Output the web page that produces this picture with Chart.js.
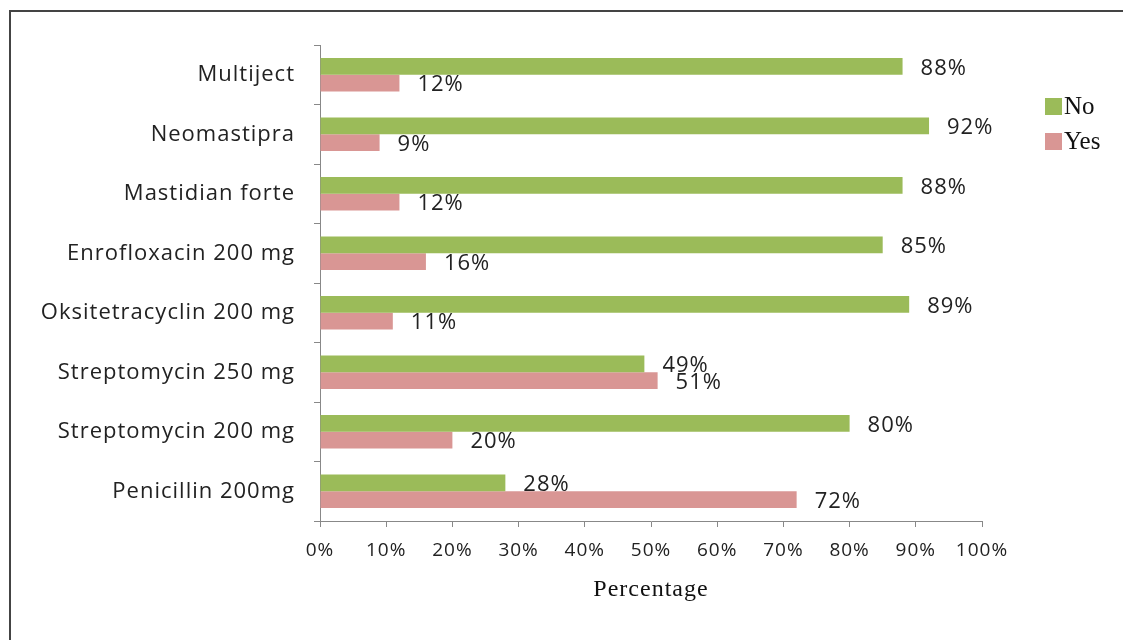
<!DOCTYPE html>
<html>
<head>
<meta charset="utf-8">
<script src="https://cdn.jsdelivr.net/npm/chart.js@4.4.1/dist/chart.umd.min.js"></script>
<style>
  html, body { margin: 0; padding: 0; background: #fff; }
  #wrap { position: relative; width: 1123px; height: 640px; }
  #frame { position: absolute; left: 9px; top: 10px; right: -5px; bottom: -5px;
           border-top: 2px solid #444; border-left: 2px solid #444; }
  canvas { position: absolute; left: 0; top: 0; }
</style>
</head>
<body>
<div id="wrap">
  <div id="frame"></div>
  <canvas id="c" width="1123" height="640"></canvas>
</div>
<script>
const categories = ["Multiject", "Neomastipra", "Mastidian forte", "Enrofloxacin 200 mg",
  "Oksitetracyclin 200 mg", "Streptomycin 250 mg", "Streptomycin 200 mg", "Penicillin 200mg"];
const noValues  = [88, 92, 88, 85, 89, 49, 80, 28];
const yesValues = [12, 9, 12, 16, 11, 51, 20, 72];
const xTicks = [0, 10, 20, 30, 40, 50, 60, 70, 80, 90, 100];
const seriesNames = ["No", "Yes"];
const colors = ["#9bbb59", "#d99694"];

const spacingPlugin = {
  id: 'spacing',
  beforeDraw(chart) { chart.ctx.letterSpacing = '1px'; }
};

const labelPlugin = {
  id: 'valueLabels',
  afterDatasetsDraw(chart) {
    const ctx = chart.ctx;
    ctx.save();
    ctx.letterSpacing = '1px';
    ctx.font = '22px "Open Sans"';
    ctx.fillStyle = '#222';
    ctx.textAlign = 'left';
    ctx.textBaseline = 'middle';
    chart.data.datasets.forEach((ds, di) => {
      const meta = chart.getDatasetMeta(di);
      meta.data.forEach((bar, i) => {
        ctx.fillText(ds.data[i] + '%', bar.x + 18, bar.y + 2);
      });
    });
    ctx.restore();
  }
};

const legendPlugin = {
  id: 'customLegend',
  afterDraw(chart) {
    const ctx = chart.ctx;
    ctx.save();
    ctx.letterSpacing = '0px';
    const x0 = chart.chartArea.right + 63;
    let y0 = 98;
    ctx.font = '25px "Liberation Serif"';
    ctx.textBaseline = 'middle';
    ctx.textAlign = 'left';
    chart.data.datasets.forEach((ds) => {
      ctx.fillStyle = ds.backgroundColor;
      ctx.fillRect(x0, y0, 17, 17);
      ctx.fillStyle = '#111';
      ctx.fillText(ds.label, x0 + 19, y0 + 9);
      y0 += 35;
    });
    ctx.restore();
  }
};

new Chart(document.getElementById('c'), {
  type: 'bar',
  data: {
    labels: categories,
    datasets: [
      { label: seriesNames[0], data: noValues, backgroundColor: colors[0] },
      { label: seriesNames[1], data: yesValues, backgroundColor: colors[1] }
    ]
  },
  options: {
    indexAxis: 'y',
    responsive: false,
    animation: false,
    categoryPercentage: 0.56,
    barPercentage: 1.0,
    layout: { padding: { left: 0, top: 45, right: 141, bottom: 32 } },
    plugins: { legend: { display: false }, tooltip: { enabled: false } },
    scales: {
      x: {
        min: 0, max: 100,
        afterBuildTicks(scale) { scale.ticks = xTicks.map(v => ({ value: v })); },
        afterFit(scale) { scale.height = 87; },
        grid: { drawOnChartArea: false, drawTicks: true, tickLength: 6, color: '#888' },
        border: { display: true, color: '#888', width: 1 },
        ticks: { padding: 12, color: '#222', font: { family: 'Open Sans', size: 19 },
                 callback: v => v + '%' },
        title: { display: true, text: 'Percentage', color: '#111',
                 font: { family: 'Liberation Serif', size: 24 }, padding: { top: 4, bottom: 4 } }
      },
      y: {
        afterFit(scale) { scale.width = 320; },
        grid: { drawOnChartArea: false, drawTicks: true, tickLength: 6, color: '#888', offset: true },
        border: { display: true, color: '#888', width: 1 },
        ticks: { padding: 19, color: '#222', font: { family: 'Open Sans', size: 22 } }
      }
    }
  },
  plugins: [spacingPlugin, labelPlugin, legendPlugin]
});
</script>
</body>
</html>
